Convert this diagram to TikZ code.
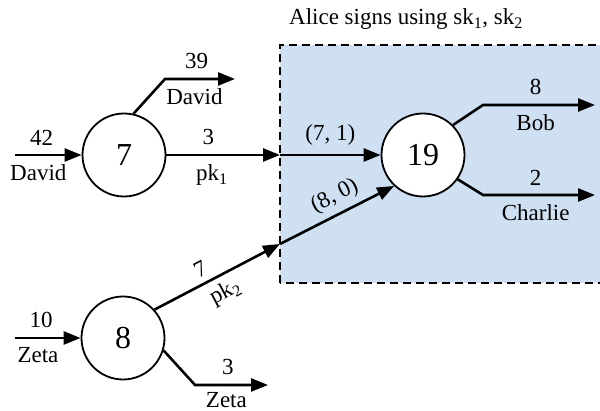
\documentclass[tikz,border=0pt]{standalone}
\usepackage{fontspec}
\setmainfont{Liberation Serif}
\usetikzlibrary{arrows.meta}
\definecolor{boxblue}{RGB}{207,224,242}
\tikzset{
  lbl/.style={font=\fontsize{23}{25}\selectfont, inner sep=0pt},
  up/.style={lbl, above=8.5pt},
  dn/.style={lbl, below=8.5pt},
  txn/.style={draw, circle, minimum size=83pt, line width=1.8pt, fill=white, inner sep=0pt, font=\fontsize{32}{34}\selectfont},
  flow/.style={line width=2.6pt, -{Triangle[length=17pt,width=13pt]}},
  zone/.style={fill=boxblue, draw=black, line width=2.8pt, dash pattern=on 8pt off 5pt}
}
\begin{document}
\begin{tikzpicture}[x=1pt,y=1pt]
\useasboundingbox (0,0) rectangle (600,411);
\clip (0,0) rectangle (600,411);
% zone
\draw[zone] (280,128) rectangle (608,366);
\node[lbl, anchor=base] (title) at (406,386) {Alice signs using sk\textsubscript{1}, sk\textsubscript{2}};
% nodes
\node[txn] (c7) at (124,256) {7};
\node[txn] (c19) at (423,256) {19};
\node[txn] (c8) at (123,73) {8};
% coordinates
\coordinate (in7) at (15,256);
\coordinate (b39) at (165,332);
\coordinate (e39) at (235,332);
\coordinate (m1) at (280,256);
\coordinate (m2) at (280,167);
\coordinate (bBob) at (483,306);
\coordinate (eBob) at (595,306);
\coordinate (bCh) at (483,216);
\coordinate (eCh) at (595,216);
\coordinate (in8) at (15,73);
\coordinate (bZ) at (195,26);
\coordinate (eZ) at (268,26);
% connectors
\draw[flow] (in7) -- node[up, pos=0.4] {42} node[dn, pos=0.35] {David} (c7);
\draw[flow] (c7.77) -- (b39) -- node[up, pos=0.45] {39} node[dn, pos=0.42] {David} (e39);
\draw[flow] (c7) -- node[up, pos=0.37] {3} node[dn, pos=0.4] {pk\textsubscript{1}} (m1);
\draw[flow] (m1) -- node[up] {(7, 1)} (c19);
\draw[flow] (c8.42) -- node[lbl, above=6pt, sloped, pos=0.42] {7} node[lbl, below=6pt, sloped, pos=0.5] {pk\textsubscript{2}} (m2);
\draw[flow] (m2) -- node[lbl, above=6pt, sloped, pos=0.55] {(8, 0)} (c19.227);
\draw[flow] (c19.45) -- (bBob) -- node[up, pos=0.47] {8} node[dn, pos=0.47] {Bob} (eBob);
\draw[flow] (c19.-35) -- (bCh) -- node[up, pos=0.47] {2} node[dn, pos=0.47] {Charlie} (eCh);
\draw[flow] (in8) -- node[up, pos=0.4] {10} node[dn, pos=0.35] {Zeta} (c8);
\draw[flow] (c8.-17) -- (bZ) -- node[up, pos=0.45] {3} node[lbl, below=6pt, pos=0.43] {Zeta} (eZ);
\end{tikzpicture}
\end{document}
